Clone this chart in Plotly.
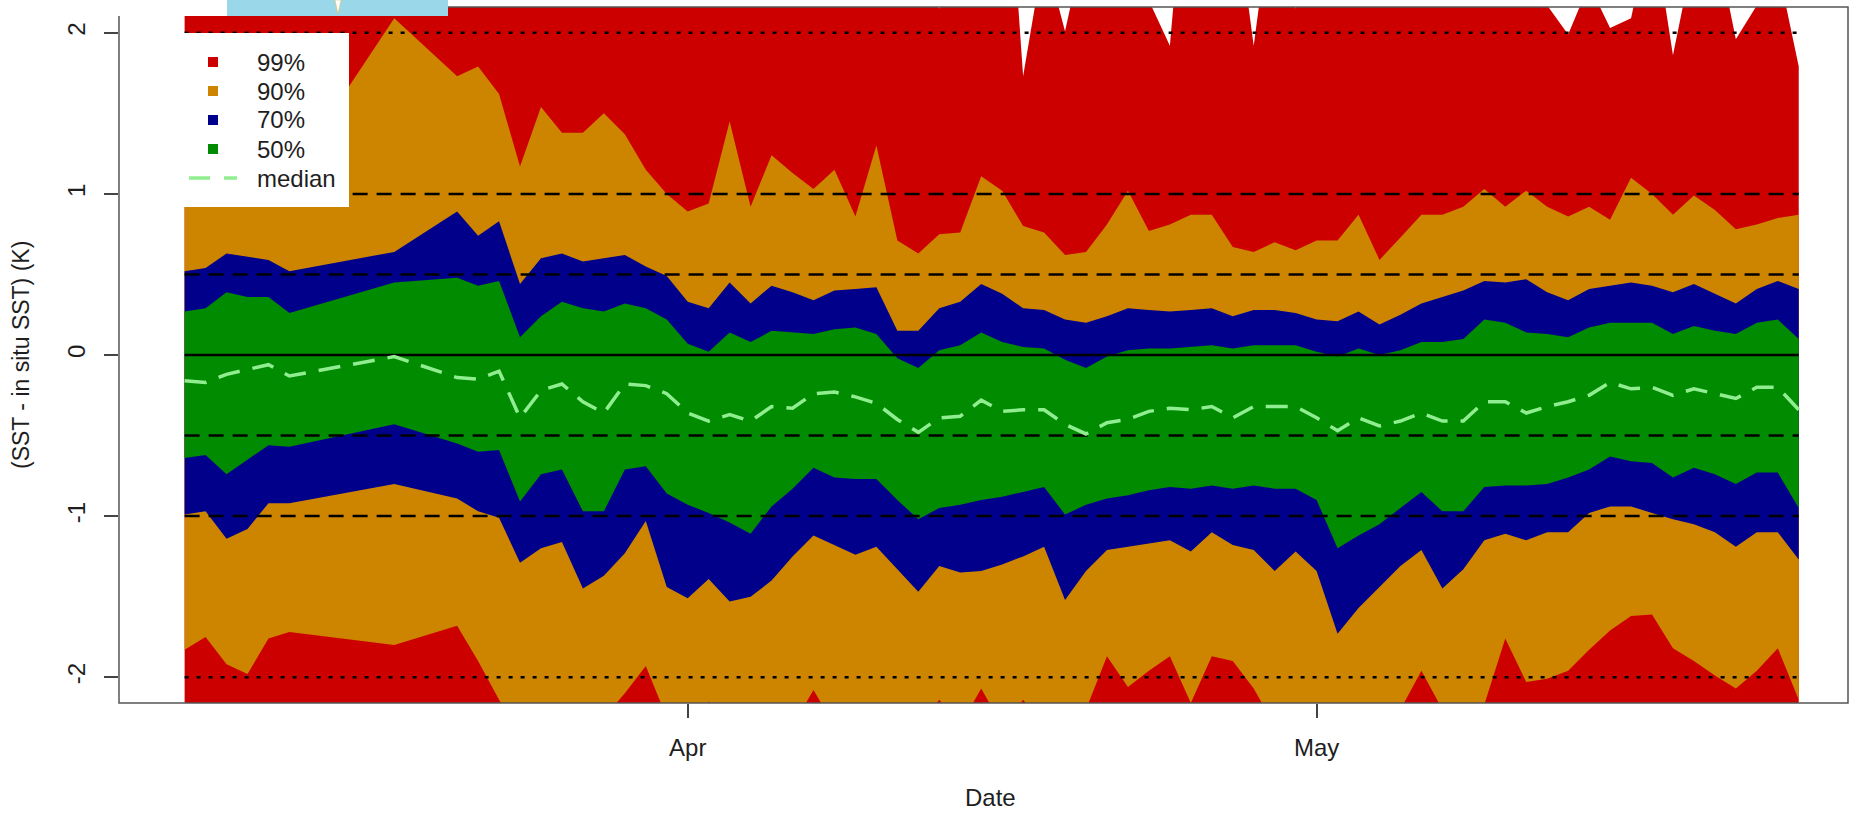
import plotly.graph_objects as go

# ---------------- data ----------------
dates = [
    "2015-03-08", "2015-03-09", "2015-03-10", "2015-03-11", "2015-03-12", "2015-03-13",
    "2015-03-18",
    "2015-03-21", "2015-03-22", "2015-03-23", "2015-03-24", "2015-03-25", "2015-03-26",
    "2015-03-27", "2015-03-28", "2015-03-29", "2015-03-30", "2015-03-31",
    "2015-04-01", "2015-04-02", "2015-04-03", "2015-04-04", "2015-04-05", "2015-04-06",
    "2015-04-07", "2015-04-08", "2015-04-09", "2015-04-10", "2015-04-11", "2015-04-12",
    "2015-04-13", "2015-04-14", "2015-04-15", "2015-04-16", "2015-04-17", "2015-04-18",
    "2015-04-19", "2015-04-20", "2015-04-21", "2015-04-22", "2015-04-23", "2015-04-24",
    "2015-04-25", "2015-04-26", "2015-04-27", "2015-04-28", "2015-04-29", "2015-04-30",
    "2015-05-01", "2015-05-02", "2015-05-03", "2015-05-04", "2015-05-05", "2015-05-06",
    "2015-05-07", "2015-05-08", "2015-05-09", "2015-05-10", "2015-05-11", "2015-05-12",
    "2015-05-13", "2015-05-14", "2015-05-15", "2015-05-16", "2015-05-17", "2015-05-18",
    "2015-05-19", "2015-05-20", "2015-05-21", "2015-05-22", "2015-05-23", "2015-05-24",
]

p99_hi = [
    2.5, 2.5, 2.5, 2.5, 2.5, 2.5, 2.5,
    2.5, 2.5, 2.5, 2.5, 2.5, 2.5, 2.5, 2.5, 2.5, 2.5, 2.5,
    2.5, 2.5, 2.5, 2.5, 2.5, 2.5, 2.5, 2.5, 2.5, 2.5, 2.5, 2.4, 2.15, 2.4, 2.6,
    3.6, 1.73, 2.5, 2.01, 2.6, 2.6, 2.5, 2.2, 1.92, 3.4, 3.0, 2.9, 1.92, 2.9, 2.15,
    2.4, 2.6, 2.6, 2.6, 2.6, 2.6, 2.6, 2.6, 2.6, 2.6, 2.5, 2.17,
    1.99, 2.3, 2.03, 2.09, 2.7, 1.86, 2.5, 2.6, 1.96, 2.17, 2.41, 1.79,
]
p90_hi = [
    1.25, 1.30, 1.20, 1.15, 1.20, 1.11, 2.09,
    1.73, 1.79, 1.62, 1.17, 1.54, 1.38, 1.38, 1.50, 1.37, 1.15, 1.00,
    0.89, 0.94, 1.45, 0.92, 1.24, 1.13, 1.03, 1.15, 0.86, 1.30, 0.71, 0.63, 0.75, 0.76, 1.11,
    1.02, 0.80, 0.76, 0.62, 0.64, 0.81, 1.02, 0.77, 0.81, 0.87, 0.87, 0.67, 0.64, 0.70, 0.65,
    0.71, 0.71, 0.87, 0.59, 0.73, 0.87, 0.87, 0.92, 1.03, 0.92, 1.02, 0.92,
    0.86, 0.92, 0.84, 1.10, 1.00, 0.87, 0.99, 0.90, 0.78, 0.81, 0.85, 0.87,
]
p70_hi = [
    0.52, 0.54, 0.63, 0.61, 0.59, 0.52, 0.64,
    0.89, 0.74, 0.83, 0.44, 0.60, 0.63, 0.58, 0.60, 0.62, 0.55, 0.49,
    0.33, 0.29, 0.45, 0.32, 0.43, 0.39, 0.34, 0.40, 0.41, 0.42, 0.15, 0.15, 0.29, 0.33, 0.44,
    0.38, 0.29, 0.28, 0.22, 0.20, 0.24, 0.29, 0.28, 0.27, 0.28, 0.29, 0.24, 0.28, 0.28, 0.26,
    0.22, 0.21, 0.27, 0.19, 0.25, 0.32, 0.36, 0.40, 0.46, 0.45, 0.47, 0.39,
    0.34, 0.41, 0.43, 0.45, 0.43, 0.39, 0.44, 0.38, 0.32, 0.41, 0.46, 0.41,
]
p50_hi = [
    0.27, 0.29, 0.39, 0.36, 0.36, 0.26, 0.45,
    0.48, 0.43, 0.46, 0.11, 0.24, 0.33, 0.29, 0.27, 0.32, 0.29, 0.22,
    0.07, 0.02, 0.14, 0.08, 0.15, 0.14, 0.13, 0.16, 0.17, 0.13, -0.02, -0.08, 0.03, 0.06, 0.14,
    0.08, 0.05, 0.04, -0.03, -0.08, -0.01, 0.03, 0.04, 0.04, 0.05, 0.06, 0.04, 0.06, 0.06, 0.06,
    0.02, -0.01, 0.04, 0.00, 0.03, 0.08, 0.08, 0.10, 0.22, 0.20, 0.14, 0.13,
    0.11, 0.17, 0.20, 0.20, 0.20, 0.13, 0.18, 0.15, 0.13, 0.20, 0.22, 0.10,
]
median = [
    -0.16, -0.17, -0.12, -0.09, -0.06, -0.13, -0.01,
    -0.14, -0.15, -0.10, -0.39, -0.22, -0.18, -0.29, -0.36, -0.18, -0.19, -0.24,
    -0.36, -0.41, -0.37, -0.41, -0.32, -0.33, -0.24, -0.23, -0.26, -0.30, -0.40, -0.48, -0.39, -0.38, -0.28,
    -0.35, -0.34, -0.34, -0.43, -0.49, -0.42, -0.40, -0.35, -0.33, -0.34, -0.32, -0.39, -0.32, -0.32, -0.32,
    -0.39, -0.47, -0.39, -0.44, -0.41, -0.36, -0.41, -0.41, -0.29, -0.29, -0.36, -0.32,
    -0.29, -0.25, -0.17, -0.21, -0.20, -0.25, -0.21, -0.24, -0.27, -0.20, -0.20, -0.34,
]
p50_lo = [
    -0.64, -0.62, -0.74, -0.65, -0.56, -0.57, -0.43,
    -0.55, -0.60, -0.59, -0.91, -0.74, -0.71, -0.97, -0.97, -0.71, -0.69, -0.86,
    -0.93, -0.98, -1.04, -1.11, -0.94, -0.83, -0.70, -0.76, -0.77, -0.77, -0.90, -1.02, -0.95, -0.93, -0.90,
    -0.88, -0.85, -0.82, -0.99, -0.93, -0.89, -0.87, -0.84, -0.82, -0.83, -0.81, -0.83, -0.81, -0.83, -0.83,
    -0.90, -1.20, -1.12, -1.05, -0.95, -0.85, -0.97, -0.97, -0.82, -0.81, -0.81, -0.80,
    -0.76, -0.71, -0.63, -0.66, -0.67, -0.76, -0.70, -0.74, -0.80, -0.73, -0.73, -0.95,
]
p70_lo = [
    -0.99, -0.97, -1.14, -1.08, -0.92, -0.92, -0.80,
    -0.89, -0.97, -1.01, -1.29, -1.20, -1.16, -1.45, -1.37, -1.23, -1.03, -1.44,
    -1.51, -1.39, -1.53, -1.50, -1.40, -1.25, -1.12, -1.18, -1.24, -1.19, -1.33, -1.47, -1.31, -1.35, -1.34,
    -1.30, -1.25, -1.19, -1.52, -1.34, -1.21, -1.19, -1.17, -1.15, -1.22, -1.10, -1.18, -1.21, -1.34, -1.22,
    -1.34, -1.73, -1.57, -1.44, -1.31, -1.21, -1.45, -1.33, -1.15, -1.11, -1.15, -1.10,
    -1.10, -0.98, -0.94, -0.94, -0.98, -1.02, -1.05, -1.10, -1.19, -1.10, -1.10, -1.27,
]
p90_lo = [
    -1.83, -1.75, -1.92, -1.98, -1.76, -1.72, -1.80,
    -1.68, -1.90, -2.14, -2.35, -2.35, -2.30, -2.30, -2.25, -2.10, -1.93, -2.25,
    -2.30, -2.15, -2.30, -2.30, -2.30, -2.30, -2.08, -2.30, -2.30, -2.30, -2.30, -2.30, -2.14, -2.30, -2.07,
    -2.30, -2.14, -2.30, -2.30, -2.20, -1.87, -2.06, -1.96, -1.87, -2.16, -1.87, -1.90, -2.07, -2.30, -2.30,
    -2.30, -2.30, -2.30, -2.30, -2.20, -1.96, -2.20, -2.30, -2.17, -1.76, -2.03, -2.01,
    -1.96, -1.83, -1.71, -1.62, -1.61, -1.82, -1.90, -1.99, -2.07, -1.96, -1.82, -2.14,
]
p99_lo = [
    -2.6, -2.6, -2.6, -2.6, -2.6, -2.6, -2.6,
    -2.6, -2.6, -2.6, -2.6, -2.6, -2.6, -2.6, -2.6, -2.6, -2.6, -2.6,
    -2.6, -2.6, -2.6, -2.6, -2.6, -2.6, -2.6, -2.6, -2.6, -2.6, -2.6, -2.6, -2.6, -2.6, -2.6,
    -2.6, -2.6, -2.6, -2.6, -2.6, -2.6, -2.6, -2.6, -2.6, -2.6, -2.6, -2.6, -2.6, -2.6, -2.6,
    -2.6, -2.6, -2.6, -2.6, -2.6, -2.6, -2.6, -2.6, -2.6, -2.6, -2.6, -2.6,
    -2.6, -2.6, -2.6, -2.6, -2.6, -2.6, -2.6, -2.6, -2.6, -2.6, -2.6, -2.6,
]

ref_solid = [0]
ref_dashed = [1, 0.5, -0.5, -1]
ref_dotted = [2, -2]

y_tick_vals = [-2, -1, 0, 1, 2]
y_tick_text = ["-2", "-1", "0", "1", "2"]
x_tick_vals = ["2015-04-01", "2015-05-01"]
x_tick_text = ["Apr", "May"]
x_range = ["2015-03-04 20:53", "2015-05-26 08:24"]

legend_labels = ["99%", "90%", "70%", "50%", "median"]

# ---------------- styling ----------------
W, H = 1872, 814
ML, MR, MT, MB = 119, 24, 7, 111
PW, PH = W - ML - MR, H - MT - MB
FONT = "Liberation Sans, Arial, Helvetica, sans-serif"
TXT = "#1e1e1e"
C99, C90, C70, C50, CMED = "#CD0000", "#CD8500", "#00008B", "#008B00", "#90EE90"


def px(X):
    return (X - ML) / PW


def py(Y):
    return 1 - (Y - MT) / PH


fig = go.Figure()

bands = [
    (p99_hi, p99_lo, C99),
    (p90_hi, p90_lo, C90),
    (p70_hi, p70_lo, C70),
    (p50_hi, p50_lo, C50),
]
for hi, lo, col in bands:
    fig.add_trace(go.Scatter(
        x=dates + dates[::-1], y=hi + lo[::-1], fill="toself", fillcolor=col,
        mode="lines", line=dict(width=0, color=col), hoverinfo="skip", showlegend=False))

for v in ref_dashed:
    fig.add_trace(go.Scatter(x=[dates[0], dates[-1]], y=[v, v], mode="lines",
                             line=dict(color="black", width=2.5, dash="15px,9px"),
                             hoverinfo="skip", showlegend=False))
for v in ref_dotted:
    fig.add_trace(go.Scatter(x=[dates[0], dates[-1]], y=[v, v], mode="lines",
                             line=dict(color="black", width=2.5, dash="4px,8px"),
                             hoverinfo="skip", showlegend=False))
for v in ref_solid:
    fig.add_trace(go.Scatter(x=[dates[0], dates[-1]], y=[v, v], mode="lines",
                             line=dict(color="black", width=2.5),
                             hoverinfo="skip", showlegend=False))

fig.add_trace(go.Scatter(x=dates, y=median, mode="lines",
                         line=dict(color=CMED, width=3.5, dash="22px,13px"),
                         name="median", showlegend=False))

shapes = []
# legend box
shapes.append(dict(type="rect", xref="paper", yref="paper", x0=px(183), x1=px(349),
                   y0=py(207), y1=py(33), fillcolor="white", line=dict(width=0), layer="above"))
rows = [62, 91, 120, 149, 178]
for r, col in zip(rows[:4], [C99, C90, C70, C50]):
    shapes.append(dict(type="rect", xref="paper", yref="paper", x0=px(208), x1=px(218),
                       y0=py(r + 5), y1=py(r - 5), fillcolor=col, line=dict(width=0), layer="above"))
shapes.append(dict(type="line", xref="paper", yref="paper", x0=px(189), x1=px(237),
                   y0=py(rows[4]), y1=py(rows[4]),
                   line=dict(color=CMED, width=3.5, dash="21px,14px"), layer="above"))
# plot box
shapes.append(dict(type="rect", xref="paper", yref="paper", x0=0, x1=1, y0=0, y1=1,
                   line=dict(color="#555555", width=1.5), layer="above"))
# cut-off overlay at the top
shapes.append(dict(type="rect", xref="paper", yref="paper", x0=px(0), x1=px(227),
                   y0=py(16), y1=py(0), fillcolor="white", line=dict(width=0), layer="above"))
shapes.append(dict(type="rect", xref="paper", yref="paper", x0=px(227), x1=px(448),
                   y0=py(16), y1=py(0), fillcolor="#9AD8E9", line=dict(width=0), layer="above"))
shapes.append(dict(type="path", xref="paper", yref="paper",
                   path=f"M {px(335)},{py(0)} L {px(341)},{py(0)} L {px(338)},{py(14)} Z",
                   fillcolor="white", line=dict(color="#E8C060", width=0.6), layer="above"))

annotations = []
for r, lab in zip(rows, legend_labels):
    annotations.append(dict(text=lab, xref="paper", yref="paper", x=px(255), y=py(r),
                            xanchor="left", yanchor="middle", showarrow=False,
                            font=dict(family=FONT, size=24, color=TXT)))
annotations.append(dict(text="Date", xref="paper", yref="paper", x=px(990), y=py(813),
                        xanchor="center", yanchor="bottom", showarrow=False,
                        font=dict(family=FONT, size=24, color=TXT)))
annotations.append(dict(text="(SST - in situ SST) (K)", xref="paper", yref="paper",
                        x=px(21), y=py(355), textangle=-90, xanchor="center", yanchor="middle",
                        showarrow=False, font=dict(family=FONT, size=23, color=TXT)))

fig.update_layout(
    width=W, height=H, margin=dict(l=ML, r=MR, t=MT, b=MB, pad=0),
    paper_bgcolor="white", plot_bgcolor="white", showlegend=False,
    shapes=shapes, annotations=annotations,
    font=dict(family=FONT, size=24, color=TXT),
    xaxis=dict(type="date", range=x_range,
               tickvals=x_tick_vals, ticktext=x_tick_text, ticks="outside", ticklen=14,
               tickwidth=1.5, tickcolor="#444444", showgrid=False, zeroline=False,
               showline=False, ticklabelstandoff=9,
               tickfont=dict(family=FONT, size=24, color=TXT)),
    yaxis=dict(range=[-2.16, 2.16], tickvals=y_tick_vals, ticktext=y_tick_text,
               ticks="outside", ticklen=14, tickwidth=1.5, tickcolor="#444444",
               tickangle=-90, showgrid=False, zeroline=False, showline=False,
               ticklabelstandoff=9, tickfont=dict(family=FONT, size=24, color=TXT)),
)

fig.write_html("out.html", config={"displayModeBar": False},
               post_script="document.body.style.margin='0';document.body.style.overflow='hidden';")
